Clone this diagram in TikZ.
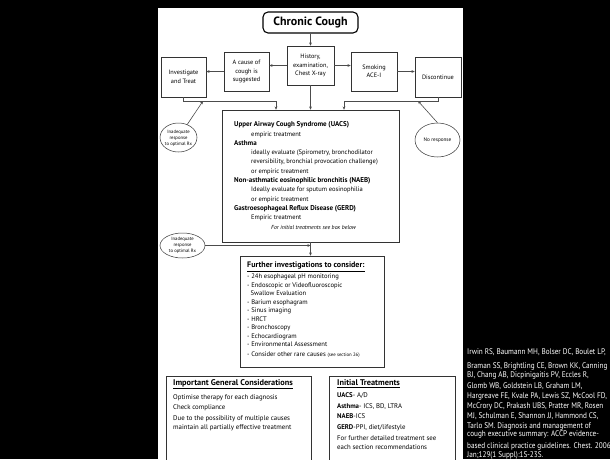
\documentclass[tikz,border=0pt]{standalone}
\usepackage{fontspec}
\setmainfont{PT Sans}
\newfontfamily\citefont[FakeStretch=0.88]{PT Sans}
\usetikzlibrary{shapes.geometric,arrows.meta}

\begin{document}
\begin{tikzpicture}[x=1pt,y=-1pt,
  >={Stealth[length=3.2pt,width=2.8pt]},
  box/.style={rectangle,draw=black!80,line width=0.6pt,align=center,inner sep=1pt,font=\fontsize{6.3}{8.5}\selectfont},
  oval/.style={ellipse,draw=black!80,line width=0.5pt,inner sep=0pt},
  ovaltext/.style={align=center,inner sep=0pt,font=\fontsize{4.7}{6}\selectfont},
  txt/.style={anchor=north west,align=left,inner sep=0pt},
  link/.style={draw=black!70,line width=0.6pt}
]
  \useasboundingbox (0,0) rectangle (610,459);
  \fill[black] (0,0) rectangle (610,459);
  \fill[white] (158,8) rectangle (463,459);
  \clip (0,0) rectangle (610,459);

  \node[draw=black,line width=1.1pt,rounded corners=5pt,minimum width=95pt,minimum height=21pt,inner sep=0pt,font=\fontsize{12}{14}\selectfont\bfseries] (cc) at (310.5,22.5) {Chronic Cough};
  \node[box,minimum width=47pt,minimum height=39pt] (hist) at (310.5,65.5) {History,\\examination,\\Chest X-ray};
  \node[box,minimum width=45pt,minimum height=39pt] (cause) at (246.5,71.5) {A cause of\\cough is\\suggested};
  \node[box,minimum width=45pt,minimum height=40pt] (invest) at (183.5,77) {Investigate\\and Treat};
  \node[box,minimum width=46pt,minimum height=39pt] (smoke) at (374,71.5) {Smoking\\ACE-I};
  \node[box,minimum width=46pt,minimum height=40pt] (disc) at (438,77) {Discontinue};

  \node[box,minimum width=177pt,minimum height=132pt] (dx) at (310.5,176) {};
  \node[txt,font=\fontsize{6.5}{9.3}\selectfont] (dxtext) at (234,121.5) {{\fontsize{7}{9.3}\selectfont\bfseries Upper Airway Cough Syndrome (UACS)}\\
    \hspace*{17pt}empiric treatment\\
    {\fontsize{7}{9.3}\selectfont\bfseries Asthma}\\
    \hspace*{17pt}ideally evaluate (Spirometry, bronchodilator\\
    \hspace*{17pt}reversibility, bronchial provocation challenge)\\
    \hspace*{17pt}or empiric treatment\\
    {\fontsize{7}{9.3}\selectfont\bfseries Non-asthmatic eosinophilic bronchitis (NAEB)}\\
    \hspace*{17pt}Ideally evaluate for sputum eosinophilia\\
    \hspace*{17pt}or empiric treatment\\
    {\fontsize{7}{9.3}\selectfont\bfseries Gastroesophageal Reflux Disease (GERD)}\\
    \hspace*{17pt}Empiric treatment\\
    \hspace*{37pt}{\fontsize{5.8}{9.3}\selectfont\itshape For initial treatments see box below}};

  \node[oval,minimum width=37pt,minimum height=29pt] (inadA) at (178.5,137.5) {};
  \node[ovaltext] (inadAtext) at (178.5,138.5) {Inadequate\\response\\to optimal Rx};
  \node[oval,minimum width=45pt,minimum height=34pt] (noresp) at (437.5,140) {};
  \node[ovaltext,font=\fontsize{5.2}{6}\selectfont] (noresptext) at (noresp) {No response};
  \node[oval,minimum width=45pt,minimum height=25pt] (inadB) at (182.5,245.5) {};
  \node[ovaltext] (inadBtext) at (inadB) {Inadequate\\response\\to optimal Rx};

  \node[box,minimum width=144pt,minimum height=111pt] (further) at (312,311.5) {};
  \node[txt,font=\fontsize{6.6}{8.5}\selectfont] (furthertext) at (247,262) {{\fontsize{8}{9}\selectfont\bfseries\underline{Further investigations to consider:}}\\[2.5pt]
    - 24h esophageal pH monitoring\\
    - Endoscopic or Videofluoroscopic\\
    \hspace*{3.5pt}Swallow Evaluation\\
    - Barium esophagram\\
    - Sinus imaging\\
    - HRCT\\
    - Bronchoscopy\\
    - Echocardiogram\\
    - Environmental Assessment\\[1.5pt]
    - Consider other rare causes {\fontsize{4.8}{8.5}\selectfont (see section 26)}};

  \node[box,minimum width=145pt,minimum height=100pt,anchor=north] (general) at (238.5,376) {};
  \node[txt,font=\fontsize{6.8}{8.5}\selectfont] (generaltext) at (173,379.5) {{\fontsize{8.3}{9}\selectfont\bfseries\underline{Important General Considerations}}\\[4.5pt]
    Optimise therapy for each diagnosis\\[1.5pt]
    Check compliance\\[2.5pt]
    Due to the possibility of multiple causes\\
    maintain all partially effective treatment};

  \node[box,minimum width=126pt,minimum height=100pt,anchor=north] (initial) at (392,376) {};
  \node[txt,font=\fontsize{6.8}{8.5}\selectfont] (initialtext) at (337,379.5) {{\fontsize{8.3}{9}\selectfont\bfseries\underline{Initial Treatments}}\\[3.5pt]
    \textbf{UACS}- A/D\\[2.5pt]
    \textbf{Asthma}- ICS, BD, LTRA\\[1.5pt]
    \textbf{NAEB}-ICS\\[2.5pt]
    \textbf{GERD}-PPI, diet/lifestyle\\[2.5pt]
    For further detailed treatment see\\
    each section recommendations};

  \node[txt,text=white,font=\citefont\fontsize{8.2}{10}\selectfont] (citation) at (467,348) {Irwin RS, Baumann MH, Bolser DC, Boulet LP,\\[4pt]
    Braman SS, Brightling CE, Brown KK, Canning\\[-1pt]
    BJ, Chang AB, Dicpinigaitis PV, Eccles R,\\[1pt]
    Glomb WB, Goldstein LB, Graham LM,\\
    Hargreave FE, Kvale PA, Lewis SZ, McCool FD,\\
    McCrory DC, Prakash UBS, Pratter MR, Rosen\\
    MJ, Schulman E, Shannon JJ, Hammond CS,\\
    Tarlo SM. Diagnosis and management of\\[-1.5pt]
    cough executive summary: ACCP evidence-\\[1.5pt]
    based clinical practice guidelines. Chest. 2006\\[-1pt]
    Jan;129(1 Suppl):1S-23S.};

  \coordinate (ljoin) at (276,101);
  \coordinate (rjoin) at (344,101);
  \coordinate (lhit) at (203,101);
  \coordinate (rhit) at (418,101);
  \coordinate (fhit) at (310.5,245.5);

  \draw[link,->] (cc) -- (hist);
  \draw[link,->] (hist.west) -- (hist.west -| cause.east);
  \draw[link,->] (cause.west) -- (cause.west -| invest.east);
  \draw[link,->] (hist.east) -- (hist.east -| smoke.west);
  \draw[link,->] (smoke.east) -- (smoke.east -| disc.west);
  \draw[link,->] (invest.south) |- (ljoin) -- (ljoin |- dx.north);
  \draw[link,->] (disc.south) |- (rjoin) -- (rjoin |- dx.north);
  \draw[link,->] (hist.south) -- (hist.south |- dx.north);
  \draw[link,->] (inadA) -- (lhit);
  \draw[link,->] (noresp.north) -- (rhit);
  \draw[link,->] (dx.south) -- (dx.south |- further.north);
  \draw[link,->] (inadB.east) -- (fhit);
\end{tikzpicture}
\end{document}
